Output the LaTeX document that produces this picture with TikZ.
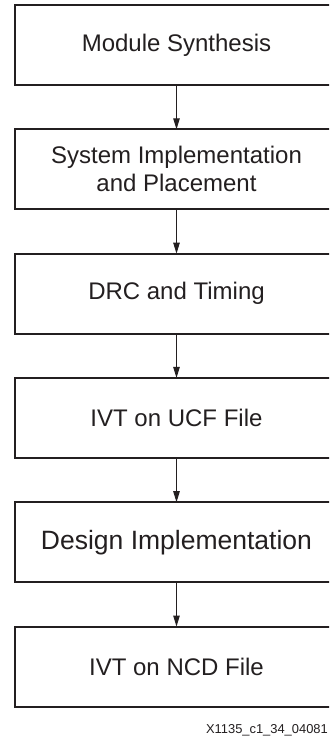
\documentclass[tikz,border=0pt]{standalone}
\usepackage{fontspec}
\setmainfont{Liberation Sans}
\usetikzlibrary{arrows.meta}
\definecolor{ink}{HTML}{231F20}
\tikzset{
  x=1pt, y=-1pt,
  stepbox/.style={draw=ink, line width=2pt, rectangle, minimum width=324pt,
    minimum height=80pt, inner sep=0pt, outer sep=0pt, align=center,
    text=ink, font=\fontsize{24}{28}\selectfont},
  flow/.style={draw=ink, line width=1pt, -{Triangle[length=11pt,width=6.5pt]}},
}
\begin{document}
\begin{tikzpicture}
  \clip (0,0) rectangle (329,738);
  \fill[white] (0,0) rectangle (329,738);
  % process steps, top to bottom
  \node[stepbox] (s1) at (176.5,45.0)  {Module Synthesis};
  \node[stepbox] (s2) at (176.5,169.3) {System Implementation\\and Placement};
  \node[stepbox] (s3) at (176.5,293.6) {DRC and Timing};
  \node[stepbox] (s4) at (176.5,417.9) {IVT on UCF File};
  \node[stepbox, font=\fontsize{26.5}{30}\selectfont] (s5) at (176.5,542.2) {Design Implementation};
  \node[stepbox] (s6) at (176.5,666.5) {IVT on NCD File};
  % connectors
  \draw[flow] (s1.south) -- (s2.north);
  \draw[flow] (s2.south) -- (s3.north);
  \draw[flow] (s3.south) -- (s4.north);
  \draw[flow] (s4.south) -- (s5.north);
  \draw[flow] (s5.south) -- (s6.north);
  % figure id
  \node[anchor=east, inner sep=0pt, text=ink, font=\fontsize{12.9}{15}\selectfont]
    (figid) at (328,730) {X1135\_c1\_34\_04081};
\end{tikzpicture}
\end{document}
